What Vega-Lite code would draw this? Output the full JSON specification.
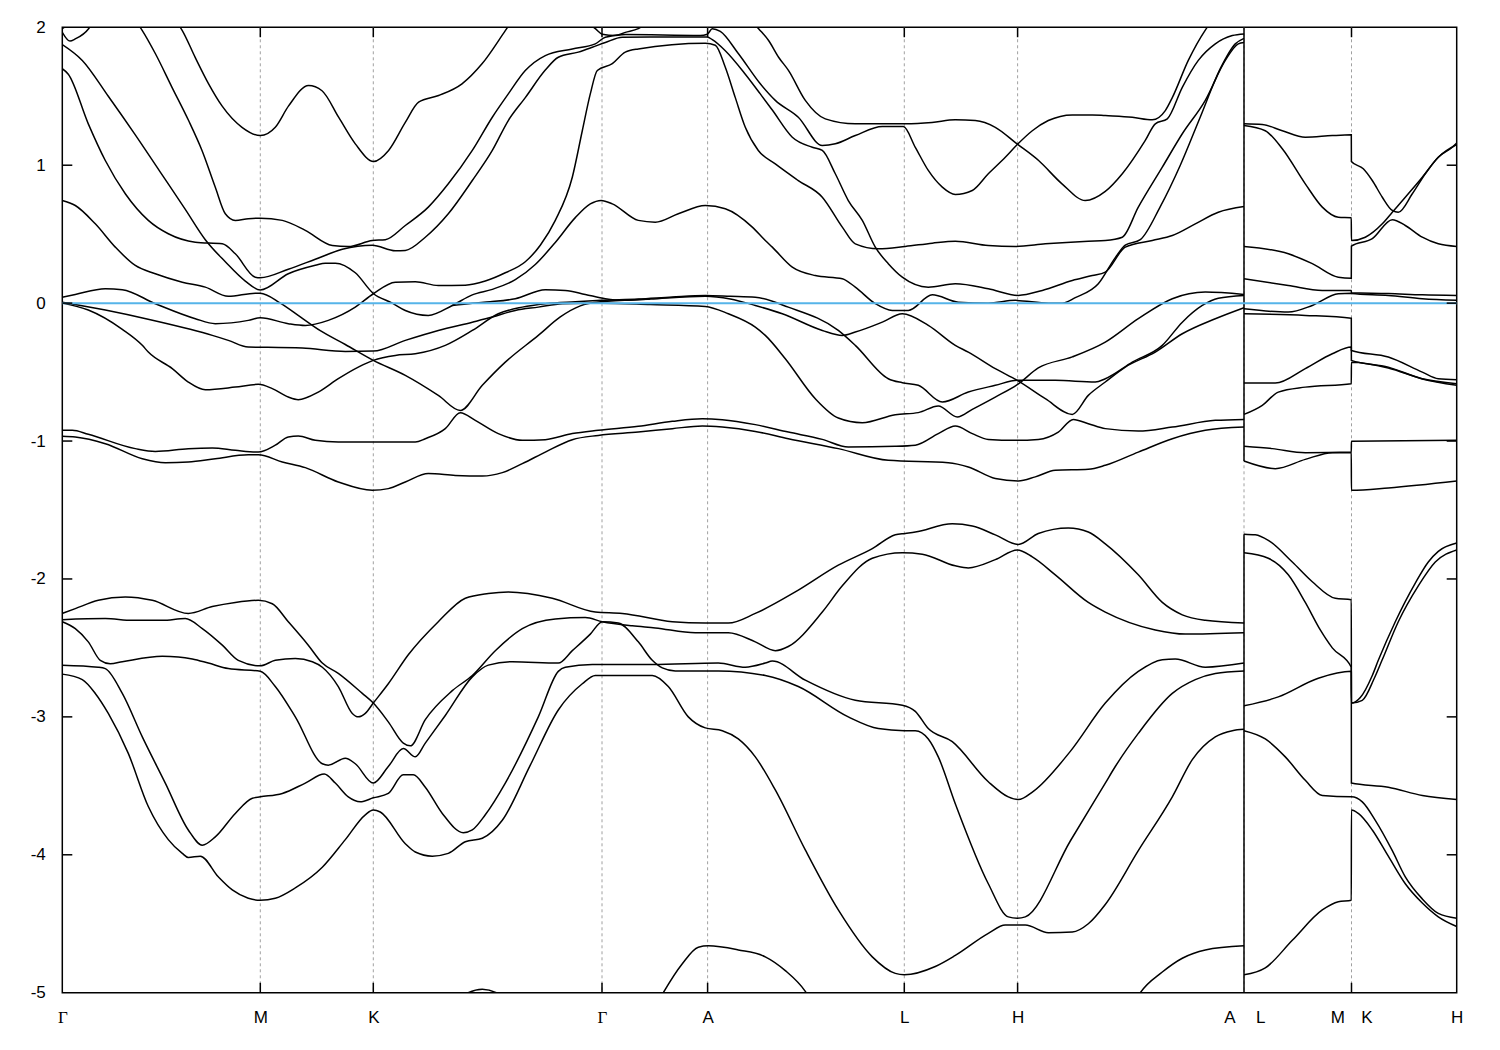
{
"$schema": "https://vega.github.io/schema/vega-lite/v6.json",
"width": 1394.4, "height": 965.4,
"autosize": {"type": "none"},
"padding": {"left": 62.3, "top": 27.3, "right": 43.3, "bottom": 57.3},
"config": {"view": {"stroke": "black", "strokeWidth": 1.5}, "font": "Liberation Sans",
 "axis": {"domain": false, "grid": false, "ticks": false, "labelColor": "black", "labelFont": "Liberation Sans", "labelFontSize": 17, "title": null}},
"layer": [
{"data": {"values": [{"k":198},{"k":311},{"k":539.7},{"k":645.3},{"k":842},{"k":955.3},{"k":1181.7},{"k":1289.2}]},
 "mark": {"type": "rule", "color": "#a0a0a0", "strokeWidth": 1, "strokeDash": [3, 3]},
 "encoding": {"x": {"field": "k", "type": "quantitative", "scale": {"domain": [0, 1394.4], "nice": false, "zero": false},
   "axis": {"orient": "bottom", "values": [0,198,311,539.7,645.3,842,955.3,1167,1198,1275,1304,1394.4], "labelPadding": 17, "labelFlush": false,
   "labelExpr": "datum.value==0||datum.value==539.7?'Γ':(datum.value==198||datum.value==1275)?'M':(datum.value==311||datum.value==1304)?'K':(datum.value==645.3||datum.value==1167)?'A':(datum.value==842||datum.value==1198)?'L':'H'",
   "labelFont": {"condition": {"test": "datum.value==0||datum.value==539.7", "value": "Liberation Serif"}, "value": "Liberation Sans"}}}}},
{"data": {"values": [{"k":1181.7,"lo":-5,"hi":-1.675},{"k":1181.7,"lo":-1.145,"hi":2}]},
 "mark": {"type": "rule", "color": "black", "strokeWidth": 1.5},
 "encoding": {"x": {"field": "k", "type": "quantitative"}, "y": {"field": "lo", "type": "quantitative", "scale": {"domain": [-5, 2], "nice": false, "zero": false},
   "axis": {"values": [-5,-4,-3,-2,-1,0,1,2], "labelPadding": 17, "labelExpr": "'' + datum.value"}}, "y2": {"field": "hi"}}},
{"data": {"values": [
{"b":"B1","x":0,"y":-2.69},{"b":"B1","x":20,"y":-2.73},{"b":"B1","x":33,"y":-2.83},{"b":"B1","x":46,"y":-2.975},{"b":"B1","x":66,"y":-3.265},{"b":"B1","x":86,"y":-3.65},{"b":"B1","x":106,"y":-3.89},{"b":"B1","x":120,"y":-3.99},{"b":"B1","x":126,"y":-4.02},{"b":"B1","x":138,"y":-4.01},{"b":"B1","x":156,"y":-4.16},{"b":"B1","x":170,"y":-4.255},{"b":"B1","x":186,"y":-4.315},{"b":"B1","x":198,"y":-4.33},{"b":"B1","x":213,"y":-4.315},{"b":"B1","x":233,"y":-4.24},{"b":"B1","x":260,"y":-4.09},{"b":"B1","x":283,"y":-3.89},{"b":"B1","x":303,"y":-3.71},{"b":"B1","x":311,"y":-3.676},{"b":"B1","x":318,"y":-3.69},{"b":"B1","x":343,"y":-3.92},{"b":"B1","x":353,"y":-3.98},{"b":"B1","x":370,"y":-4.01},{"b":"B1","x":386,"y":-3.99},{"b":"B1","x":403,"y":-3.905},{"b":"B1","x":420,"y":-3.88},{"b":"B1","x":440,"y":-3.75},{"b":"B1","x":468,"y":-3.35},{"b":"B1","x":496,"y":-2.95},{"b":"B1","x":520,"y":-2.76},{"b":"B1","x":533,"y":-2.70},{"b":"B1","x":590,"y":-2.70},{"b":"B1","x":606,"y":-2.78},{"b":"B1","x":626,"y":-3.0},{"b":"B1","x":643,"y":-3.08},{"b":"B1","x":660,"y":-3.10},{"b":"B1","x":676,"y":-3.16},{"b":"B1","x":693,"y":-3.29},{"b":"B1","x":713,"y":-3.53},{"b":"B1","x":743,"y":-3.965},{"b":"B1","x":776,"y":-4.40},{"b":"B1","x":810,"y":-4.74},{"b":"B1","x":833,"y":-4.86},{"b":"B1","x":842,"y":-4.87},{"b":"B1","x":873,"y":-4.81},{"b":"B1","x":893,"y":-4.73},{"b":"B1","x":926,"y":-4.57},{"b":"B1","x":943,"y":-4.51},{"b":"B1","x":963,"y":-4.51},{"b":"B1","x":986,"y":-4.565},{"b":"B1","x":1010,"y":-4.56},{"b":"B1","x":1026,"y":-4.50},{"b":"B1","x":1043,"y":-4.36},{"b":"B1","x":1076,"y":-3.97},{"b":"B1","x":1110,"y":-3.58},{"b":"B1","x":1130,"y":-3.31},{"b":"B1","x":1153,"y":-3.145},{"b":"B1","x":1170,"y":-3.10},{"b":"B1","x":1181.7,"y":-3.09},
{"b":"B2","x":0,"y":-2.625},{"b":"B2","x":36,"y":-2.64},{"b":"B2","x":43,"y":-2.65},{"b":"B2","x":60,"y":-2.83},{"b":"B2","x":80,"y":-3.145},{"b":"B2","x":103,"y":-3.48},{"b":"B2","x":126,"y":-3.82},{"b":"B2","x":140,"y":-3.93},{"b":"B2","x":153,"y":-3.87},{"b":"B2","x":173,"y":-3.70},{"b":"B2","x":190,"y":-3.59},{"b":"B2","x":198,"y":-3.58},{"b":"B2","x":220,"y":-3.555},{"b":"B2","x":243,"y":-3.48},{"b":"B2","x":262,"y":-3.415},{"b":"B2","x":273,"y":-3.48},{"b":"B2","x":286,"y":-3.58},{"b":"B2","x":298,"y":-3.616},{"b":"B2","x":311,"y":-3.587},{"b":"B2","x":326,"y":-3.555},{"b":"B2","x":341,"y":-3.42},{"b":"B2","x":351,"y":-3.42},{"b":"B2","x":363,"y":-3.51},{"b":"B2","x":380,"y":-3.70},{"b":"B2","x":401,"y":-3.84},{"b":"B2","x":410,"y":-3.82},{"b":"B2","x":423,"y":-3.71},{"b":"B2","x":443,"y":-3.48},{"b":"B2","x":476,"y":-3.0},{"b":"B2","x":496,"y":-2.67},{"b":"B2","x":503,"y":-2.64},{"b":"B2","x":530,"y":-2.62},{"b":"B2","x":590,"y":-2.62},{"b":"B2","x":656,"y":-2.61},{"b":"B2","x":683,"y":-2.64},{"b":"B2","x":703,"y":-2.61},{"b":"B2","x":710,"y":-2.595},{"b":"B2","x":743,"y":-2.734},{"b":"B2","x":793,"y":-2.88},{"b":"B2","x":840,"y":-2.915},{"b":"B2","x":853,"y":-2.96},{"b":"B2","x":866,"y":-3.085},{"b":"B2","x":890,"y":-3.18},{"b":"B2","x":926,"y":-3.47},{"b":"B2","x":946,"y":-3.58},{"b":"B2","x":956,"y":-3.60},{"b":"B2","x":971,"y":-3.54},{"b":"B2","x":1008,"y":-3.25},{"b":"B2","x":1043,"y":-2.90},{"b":"B2","x":1076,"y":-2.67},{"b":"B2","x":1100,"y":-2.585},{"b":"B2","x":1113,"y":-2.58},{"b":"B2","x":1143,"y":-2.64},{"b":"B2","x":1181.7,"y":-2.61},
{"b":"B3","x":0,"y":-2.31},{"b":"B3","x":13,"y":-2.36},{"b":"B3","x":26,"y":-2.456},{"b":"B3","x":38,"y":-2.59},{"b":"B3","x":48,"y":-2.615},{"b":"B3","x":60,"y":-2.60},{"b":"B3","x":100,"y":-2.56},{"b":"B3","x":116,"y":-2.565},{"b":"B3","x":130,"y":-2.58},{"b":"B3","x":146,"y":-2.61},{"b":"B3","x":166,"y":-2.65},{"b":"B3","x":198,"y":-2.67},{"b":"B3","x":213,"y":-2.78},{"b":"B3","x":233,"y":-3.0},{"b":"B3","x":260,"y":-3.34},{"b":"B3","x":266,"y":-3.35},{"b":"B3","x":283,"y":-3.30},{"b":"B3","x":293,"y":-3.34},{"b":"B3","x":311,"y":-3.48},{"b":"B3","x":326,"y":-3.36},{"b":"B3","x":341,"y":-3.23},{"b":"B3","x":353,"y":-3.29},{"b":"B3","x":363,"y":-3.19},{"b":"B3","x":383,"y":-2.99},{"b":"B3","x":410,"y":-2.71},{"b":"B3","x":426,"y":-2.625},{"b":"B3","x":450,"y":-2.60},{"b":"B3","x":496,"y":-2.61},{"b":"B3","x":510,"y":-2.52},{"b":"B3","x":528,"y":-2.40},{"b":"B3","x":540,"y":-2.31},{"b":"B3","x":556,"y":-2.32},{"b":"B3","x":576,"y":-2.456},{"b":"B3","x":590,"y":-2.59},{"b":"B3","x":600,"y":-2.645},{"b":"B3","x":613,"y":-2.667},{"b":"B3","x":656,"y":-2.667},{"b":"B3","x":703,"y":-2.70},{"b":"B3","x":736,"y":-2.78},{"b":"B3","x":786,"y":-3.0},{"b":"B3","x":816,"y":-3.085},{"b":"B3","x":842,"y":-3.10},{"b":"B3","x":853,"y":-3.10},{"b":"B3","x":866,"y":-3.16},{"b":"B3","x":876,"y":-3.29},{"b":"B3","x":893,"y":-3.63},{"b":"B3","x":926,"y":-4.21},{"b":"B3","x":946,"y":-4.45},{"b":"B3","x":955,"y":-4.46},{"b":"B3","x":963,"y":-4.45},{"b":"B3","x":1008,"y":-3.9},{"b":"B3","x":1043,"y":-3.48},{"b":"B3","x":1053,"y":-3.36},{"b":"B3","x":1076,"y":-3.12},{"b":"B3","x":1110,"y":-2.83},{"b":"B3","x":1133,"y":-2.73},{"b":"B3","x":1153,"y":-2.685},{"b":"B3","x":1181.7,"y":-2.667},
{"b":"B4","x":0,"y":-2.295},{"b":"B4","x":43,"y":-2.287},{"b":"B4","x":70,"y":-2.30},{"b":"B4","x":100,"y":-2.30},{"b":"B4","x":123,"y":-2.287},{"b":"B4","x":140,"y":-2.36},{"b":"B4","x":160,"y":-2.48},{"b":"B4","x":176,"y":-2.59},{"b":"B4","x":198,"y":-2.63},{"b":"B4","x":213,"y":-2.59},{"b":"B4","x":233,"y":-2.577},{"b":"B4","x":250,"y":-2.60},{"b":"B4","x":260,"y":-2.64},{"b":"B4","x":276,"y":-2.78},{"b":"B4","x":290,"y":-2.975},{"b":"B4","x":296,"y":-3.0},{"b":"B4","x":303,"y":-2.975},{"b":"B4","x":311,"y":-2.90},{"b":"B4","x":326,"y":-2.76},{"b":"B4","x":346,"y":-2.55},{"b":"B4","x":376,"y":-2.31},{"b":"B4","x":403,"y":-2.14},{"b":"B4","x":426,"y":-2.105},{"b":"B4","x":446,"y":-2.094},{"b":"B4","x":490,"y":-2.14},{"b":"B4","x":533,"y":-2.24},{"b":"B4","x":560,"y":-2.25},{"b":"B4","x":610,"y":-2.31},{"b":"B4","x":643,"y":-2.32},{"b":"B4","x":666,"y":-2.32},{"b":"B4","x":693,"y":-2.25},{"b":"B4","x":733,"y":-2.094},{"b":"B4","x":776,"y":-1.90},{"b":"B4","x":810,"y":-1.78},{"b":"B4","x":833,"y":-1.68},{"b":"B4","x":843,"y":-1.67},{"b":"B4","x":853,"y":-1.66},{"b":"B4","x":890,"y":-1.60},{"b":"B4","x":910,"y":-1.616},{"b":"B4","x":933,"y":-1.68},{"b":"B4","x":956,"y":-1.75},{"b":"B4","x":976,"y":-1.67},{"b":"B4","x":1006,"y":-1.63},{"b":"B4","x":1026,"y":-1.66},{"b":"B4","x":1043,"y":-1.745},{"b":"B4","x":1076,"y":-1.97},{"b":"B4","x":1100,"y":-2.17},{"b":"B4","x":1120,"y":-2.26},{"b":"B4","x":1143,"y":-2.30},{"b":"B4","x":1181.7,"y":-2.32},
{"b":"B5","x":0,"y":-2.25},{"b":"B5","x":13,"y":-2.215},{"b":"B5","x":36,"y":-2.155},{"b":"B5","x":63,"y":-2.13},{"b":"B5","x":90,"y":-2.155},{"b":"B5","x":126,"y":-2.25},{"b":"B5","x":150,"y":-2.20},{"b":"B5","x":173,"y":-2.17},{"b":"B5","x":196,"y":-2.155},{"b":"B5","x":210,"y":-2.18},{"b":"B5","x":226,"y":-2.31},{"b":"B5","x":246,"y":-2.48},{"b":"B5","x":260,"y":-2.61},{"b":"B5","x":276,"y":-2.685},{"b":"B5","x":300,"y":-2.83},{"b":"B5","x":311,"y":-2.90},{"b":"B5","x":326,"y":-3.036},{"b":"B5","x":341,"y":-3.19},{"b":"B5","x":348,"y":-3.21},{"b":"B5","x":363,"y":-3.02},{"b":"B5","x":390,"y":-2.81},{"b":"B5","x":410,"y":-2.70},{"b":"B5","x":433,"y":-2.52},{"b":"B5","x":460,"y":-2.36},{"b":"B5","x":493,"y":-2.29},{"b":"B5","x":523,"y":-2.28},{"b":"B5","x":540,"y":-2.31},{"b":"B5","x":570,"y":-2.34},{"b":"B5","x":593,"y":-2.355},{"b":"B5","x":633,"y":-2.39},{"b":"B5","x":666,"y":-2.39},{"b":"B5","x":693,"y":-2.456},{"b":"B5","x":713,"y":-2.52},{"b":"B5","x":726,"y":-2.49},{"b":"B5","x":760,"y":-2.24},{"b":"B5","x":780,"y":-2.05},{"b":"B5","x":810,"y":-1.85},{"b":"B5","x":840,"y":-1.81},{"b":"B5","x":860,"y":-1.82},{"b":"B5","x":893,"y":-1.905},{"b":"B5","x":906,"y":-1.92},{"b":"B5","x":933,"y":-1.86},{"b":"B5","x":955,"y":-1.79},{"b":"B5","x":970,"y":-1.84},{"b":"B5","x":993,"y":-1.97},{"b":"B5","x":1026,"y":-2.17},{"b":"B5","x":1043,"y":-2.24},{"b":"B5","x":1093,"y":-2.37},{"b":"B5","x":1123,"y":-2.40},{"b":"B5","x":1181.7,"y":-2.39},
{"b":"B0a","x":388,"y":-5.1},{"b":"B0a","x":406,"y":-5.0},{"b":"B0a","x":420,"y":-4.975},{"b":"B0a","x":434,"y":-5.0},{"b":"B0a","x":450,"y":-5.1},
{"b":"B0b","x":586,"y":-5.2},{"b":"B0b","x":601,"y":-5.0},{"b":"B0b","x":620,"y":-4.79},{"b":"B0b","x":636,"y":-4.67},{"b":"B0b","x":646,"y":-4.66},{"b":"B0b","x":676,"y":-4.69},{"b":"B0b","x":703,"y":-4.74},{"b":"B0b","x":723,"y":-4.84},{"b":"B0b","x":743,"y":-4.99},{"b":"B0b","x":756,"y":-5.15},
{"b":"B0c","x":1063,"y":-5.2},{"b":"B0c","x":1078,"y":-5.0},{"b":"B0c","x":1100,"y":-4.85},{"b":"B0c","x":1120,"y":-4.75},{"b":"B0c","x":1143,"y":-4.69},{"b":"B0c","x":1181.7,"y":-4.66},
{"b":"M1","x":0,"y":-0.922},{"b":"M1","x":10,"y":-0.922},{"b":"M1","x":26,"y":-0.951},{"b":"M1","x":73,"y":-1.055},{"b":"M1","x":93,"y":-1.075},{"b":"M1","x":126,"y":-1.055},{"b":"M1","x":150,"y":-1.05},{"b":"M1","x":173,"y":-1.067},{"b":"M1","x":196,"y":-1.08},{"b":"M1","x":213,"y":-1.03},{"b":"M1","x":226,"y":-0.97},{"b":"M1","x":236,"y":-0.964},{"b":"M1","x":253,"y":-0.995},{"b":"M1","x":276,"y":-1.007},{"b":"M1","x":326,"y":-1.007},{"b":"M1","x":353,"y":-1.007},{"b":"M1","x":363,"y":-0.983},{"b":"M1","x":383,"y":-0.91},{"b":"M1","x":398,"y":-0.794},{"b":"M1","x":413,"y":-0.85},{"b":"M1","x":436,"y":-0.946},{"b":"M1","x":460,"y":-0.995},{"b":"M1","x":483,"y":-0.99},{"b":"M1","x":510,"y":-0.946},{"b":"M1","x":536,"y":-0.922},{"b":"M1","x":576,"y":-0.893},{"b":"M1","x":610,"y":-0.857},{"b":"M1","x":640,"y":-0.838},{"b":"M1","x":660,"y":-0.845},{"b":"M1","x":693,"y":-0.881},{"b":"M1","x":726,"y":-0.935},{"b":"M1","x":760,"y":-0.988},{"b":"M1","x":786,"y":-1.043},{"b":"M1","x":833,"y":-1.038},{"b":"M1","x":853,"y":-1.03},{"b":"M1","x":876,"y":-0.946},{"b":"M1","x":893,"y":-0.891},{"b":"M1","x":910,"y":-0.946},{"b":"M1","x":926,"y":-0.988},{"b":"M1","x":953,"y":-0.995},{"b":"M1","x":976,"y":-0.988},{"b":"M1","x":996,"y":-0.935},{"b":"M1","x":1011,"y":-0.843},{"b":"M1","x":1026,"y":-0.874},{"b":"M1","x":1043,"y":-0.91},{"b":"M1","x":1076,"y":-0.928},{"b":"M1","x":1110,"y":-0.899},{"b":"M1","x":1153,"y":-0.85},{"b":"M1","x":1181.7,"y":-0.843},
{"b":"M2","x":0,"y":-0.966},{"b":"M2","x":13,"y":-0.971},{"b":"M2","x":43,"y":-1.019},{"b":"M2","x":80,"y":-1.128},{"b":"M2","x":103,"y":-1.157},{"b":"M2","x":126,"y":-1.152},{"b":"M2","x":153,"y":-1.128},{"b":"M2","x":186,"y":-1.10},{"b":"M2","x":196,"y":-1.10},{"b":"M2","x":220,"y":-1.152},{"b":"M2","x":243,"y":-1.193},{"b":"M2","x":276,"y":-1.297},{"b":"M2","x":310,"y":-1.357},{"b":"M2","x":326,"y":-1.345},{"b":"M2","x":343,"y":-1.297},{"b":"M2","x":366,"y":-1.236},{"b":"M2","x":393,"y":-1.249},{"b":"M2","x":420,"y":-1.254},{"b":"M2","x":440,"y":-1.229},{"b":"M2","x":460,"y":-1.164},{"b":"M2","x":483,"y":-1.08},{"b":"M2","x":510,"y":-0.99},{"b":"M2","x":536,"y":-0.959},{"b":"M2","x":576,"y":-0.935},{"b":"M2","x":610,"y":-0.91},{"b":"M2","x":640,"y":-0.891},{"b":"M2","x":660,"y":-0.899},{"b":"M2","x":693,"y":-0.93},{"b":"M2","x":726,"y":-0.983},{"b":"M2","x":776,"y":-1.055},{"b":"M2","x":826,"y":-1.14},{"b":"M2","x":886,"y":-1.157},{"b":"M2","x":906,"y":-1.188},{"b":"M2","x":933,"y":-1.272},{"b":"M2","x":956,"y":-1.29},{"b":"M2","x":973,"y":-1.26},{"b":"M2","x":993,"y":-1.212},{"b":"M2","x":1026,"y":-1.205},{"b":"M2","x":1043,"y":-1.176},{"b":"M2","x":1076,"y":-1.08},{"b":"M2","x":1110,"y":-0.983},{"b":"M2","x":1143,"y":-0.922},{"b":"M2","x":1181.7,"y":-0.899},
{"b":"K1","x":0,"y":0.0},{"b":"K1","x":26,"y":-0.05},{"b":"K1","x":60,"y":-0.19},{"b":"K1","x":80,"y":-0.306},{"b":"K1","x":86,"y":-0.355},{"b":"K1","x":110,"y":-0.475},{"b":"K1","x":126,"y":-0.572},{"b":"K1","x":143,"y":-0.628},{"b":"K1","x":173,"y":-0.609},{"b":"K1","x":196,"y":-0.589},{"b":"K1","x":210,"y":-0.62},{"b":"K1","x":226,"y":-0.681},{"b":"K1","x":236,"y":-0.70},{"b":"K1","x":256,"y":-0.645},{"b":"K1","x":276,"y":-0.548},{"b":"K1","x":296,"y":-0.464},{"b":"K1","x":311,"y":-0.415},{"b":"K1","x":333,"y":-0.379},{"b":"K1","x":353,"y":-0.367},{"b":"K1","x":383,"y":-0.306},{"b":"K1","x":410,"y":-0.198},{"b":"K1","x":436,"y":-0.077},{"b":"K1","x":460,"y":-0.029},{"b":"K1","x":483,"y":-0.004},{"b":"K1","x":513,"y":0.01},{"b":"K1","x":539,"y":0.02},{"b":"K1","x":576,"y":0.03},{"b":"K1","x":610,"y":0.045},{"b":"K1","x":643,"y":0.056},{"b":"K1","x":668,"y":0.05},{"b":"K1","x":693,"y":0.043},{"b":"K1","x":726,"y":-0.029},{"b":"K1","x":776,"y":-0.198},{"b":"K1","x":793,"y":-0.306},{"b":"K1","x":826,"y":-0.548},{"b":"K1","x":840,"y":-0.577},{"b":"K1","x":856,"y":-0.596},{"b":"K1","x":880,"y":-0.717},{"b":"K1","x":906,"y":-0.645},{"b":"K1","x":933,"y":-0.596},{"b":"K1","x":955,"y":-0.56},{"b":"K1","x":993,"y":-0.56},{"b":"K1","x":1033,"y":-0.572},{"b":"K1","x":1043,"y":-0.548},{"b":"K1","x":1070,"y":-0.428},{"b":"K1","x":1100,"y":-0.306},{"b":"K1","x":1120,"y":-0.138},{"b":"K1","x":1140,"y":-0.017},{"b":"K1","x":1156,"y":0.036},{"b":"K1","x":1181.7,"y":0.056},
{"b":"K2","x":0,"y":0.007},{"b":"K2","x":43,"y":-0.05},{"b":"K2","x":88,"y":-0.12},{"b":"K2","x":128,"y":-0.19},{"b":"K2","x":150,"y":-0.234},{"b":"K2","x":166,"y":-0.27},{"b":"K2","x":186,"y":-0.319},{"b":"K2","x":198,"y":-0.32},{"b":"K2","x":240,"y":-0.326},{"b":"K2","x":283,"y":-0.35},{"b":"K2","x":311,"y":-0.348},{"b":"K2","x":343,"y":-0.27},{"b":"K2","x":376,"y":-0.198},{"b":"K2","x":410,"y":-0.138},{"b":"K2","x":430,"y":-0.101},{"b":"K2","x":453,"y":-0.053},{"b":"K2","x":476,"y":-0.029},{"b":"K2","x":500,"y":-0.004},{"b":"K2","x":523,"y":0.0},{"b":"K2","x":539,"y":0.0},{"b":"K2","x":588,"y":-0.01},{"b":"K2","x":643,"y":-0.024},{"b":"K2","x":666,"y":-0.077},{"b":"K2","x":693,"y":-0.174},{"b":"K2","x":703,"y":-0.234},{"b":"K2","x":723,"y":-0.403},{"b":"K2","x":753,"y":-0.693},{"b":"K2","x":776,"y":-0.833},{"b":"K2","x":800,"y":-0.867},{"b":"K2","x":833,"y":-0.809},{"b":"K2","x":856,"y":-0.794},{"b":"K2","x":876,"y":-0.746},{"b":"K2","x":895,"y":-0.826},{"b":"K2","x":910,"y":-0.77},{"b":"K2","x":933,"y":-0.681},{"b":"K2","x":955,"y":-0.591},{"b":"K2","x":976,"y":-0.47},{"b":"K2","x":1010,"y":-0.39},{"b":"K2","x":1043,"y":-0.283},{"b":"K2","x":1076,"y":-0.113},{"b":"K2","x":1110,"y":0.032},{"b":"K2","x":1143,"y":0.08},{"b":"K2","x":1181.7,"y":0.063},
{"b":"K3","x":0,"y":0.744},{"b":"K3","x":13,"y":0.708},{"b":"K3","x":33,"y":0.575},{"b":"K3","x":53,"y":0.406},{"b":"K3","x":73,"y":0.273},{"b":"K3","x":93,"y":0.213},{"b":"K3","x":120,"y":0.152},{"b":"K3","x":143,"y":0.116},{"b":"K3","x":166,"y":0.049},{"b":"K3","x":193,"y":0.072},{"b":"K3","x":198,"y":0.072},{"b":"K3","x":218,"y":0.0},{"b":"K3","x":238,"y":-0.1},{"b":"K3","x":258,"y":-0.2},{"b":"K3","x":283,"y":-0.3},{"b":"K3","x":311,"y":-0.415},{"b":"K3","x":343,"y":-0.524},{"b":"K3","x":376,"y":-0.669},{"b":"K3","x":398,"y":-0.778},{"b":"K3","x":420,"y":-0.596},{"b":"K3","x":443,"y":-0.428},{"b":"K3","x":476,"y":-0.234},{"b":"K3","x":498,"y":-0.1},{"b":"K3","x":518,"y":-0.02},{"b":"K3","x":539,"y":0.01},{"b":"K3","x":588,"y":0.03},{"b":"K3","x":643,"y":0.05},{"b":"K3","x":668,"y":0.03},{"b":"K3","x":693,"y":-0.017},{"b":"K3","x":720,"y":-0.077},{"b":"K3","x":760,"y":-0.198},{"b":"K3","x":780,"y":-0.234},{"b":"K3","x":793,"y":-0.21},{"b":"K3","x":820,"y":-0.138},{"b":"K3","x":840,"y":-0.077},{"b":"K3","x":866,"y":-0.161},{"b":"K3","x":893,"y":-0.306},{"b":"K3","x":906,"y":-0.355},{"b":"K3","x":933,"y":-0.475},{"b":"K3","x":955,"y":-0.56},{"b":"K3","x":983,"y":-0.693},{"b":"K3","x":1010,"y":-0.807},{"b":"K3","x":1026,"y":-0.669},{"b":"K3","x":1043,"y":-0.572},{"b":"K3","x":1063,"y":-0.464},{"b":"K3","x":1093,"y":-0.355},{"b":"K3","x":1120,"y":-0.222},{"b":"K3","x":1153,"y":-0.113},{"b":"K3","x":1181.7,"y":-0.033},
{"b":"ZA","x":0,"y":0.043},{"b":"ZA","x":13,"y":0.063},{"b":"ZA","x":43,"y":0.104},{"b":"ZA","x":60,"y":0.097},{"b":"ZA","x":93,"y":-0.004},{"b":"ZA","x":133,"y":-0.113},{"b":"ZA","x":153,"y":-0.149},{"b":"ZA","x":186,"y":-0.125},{"b":"ZA","x":198,"y":-0.106},{"b":"ZA","x":226,"y":-0.149},{"b":"ZA","x":243,"y":-0.162},{"b":"ZA","x":266,"y":-0.125},{"b":"ZA","x":293,"y":-0.029},{"b":"ZA","x":311,"y":0.068},{"b":"ZA","x":333,"y":0.152},{"b":"ZA","x":353,"y":0.155},{"b":"ZA","x":376,"y":0.128},{"b":"ZA","x":403,"y":0.13},{"b":"ZA","x":423,"y":0.16},{"b":"ZA","x":443,"y":0.22},{"b":"ZA","x":463,"y":0.30},{"b":"ZA","x":478,"y":0.42},{"b":"ZA","x":493,"y":0.60},{"b":"ZA","x":510,"y":0.913},{"b":"ZA","x":520,"y":1.25},{"b":"ZA","x":528,"y":1.517},{"b":"ZA","x":535,"y":1.687},{"b":"ZA","x":550,"y":1.736},{"b":"ZA","x":563,"y":1.82},{"b":"ZA","x":576,"y":1.843},{"b":"ZA","x":643,"y":1.884},{"b":"ZA","x":653,"y":1.87},{"b":"ZA","x":663,"y":1.71},{"b":"ZA","x":673,"y":1.49},{"b":"ZA","x":683,"y":1.275},{"b":"ZA","x":696,"y":1.107},{"b":"ZA","x":713,"y":1.01},{"b":"ZA","x":736,"y":0.889},{"b":"ZA","x":760,"y":0.768},{"b":"ZA","x":780,"y":0.551},{"b":"ZA","x":793,"y":0.43},{"b":"ZA","x":816,"y":0.394},{"b":"ZA","x":843,"y":0.411},{"b":"ZA","x":870,"y":0.435},{"b":"ZA","x":893,"y":0.449},{"b":"ZA","x":926,"y":0.418},{"b":"ZA","x":953,"y":0.411},{"b":"ZA","x":983,"y":0.43},{"b":"ZA","x":1026,"y":0.449},{"b":"ZA","x":1043,"y":0.454},{"b":"ZA","x":1060,"y":0.478},{"b":"ZA","x":1076,"y":0.696},{"b":"ZA","x":1100,"y":0.986},{"b":"ZA","x":1120,"y":1.228},{"b":"ZA","x":1143,"y":1.47},{"b":"ZA","x":1163,"y":1.76},{"b":"ZA","x":1176,"y":1.88},{"b":"ZA","x":1181.7,"y":1.89},
{"b":"XL","x":0,"y":1.875},{"b":"XL","x":20,"y":1.76},{"b":"XL","x":46,"y":1.50},{"b":"XL","x":73,"y":1.22},{"b":"XL","x":98,"y":0.95},{"b":"XL","x":123,"y":0.68},{"b":"XL","x":143,"y":0.46},{"b":"XL","x":163,"y":0.30},{"b":"XL","x":183,"y":0.16},{"b":"XL","x":198,"y":0.095},{"b":"XL","x":226,"y":0.213},{"b":"XL","x":253,"y":0.274},{"b":"XL","x":263,"y":0.29},{"b":"XL","x":273,"y":0.29},{"b":"XL","x":293,"y":0.22},{"b":"XL","x":311,"y":0.07},{"b":"XL","x":330,"y":0.0},{"b":"XL","x":343,"y":-0.053},{"b":"XL","x":366,"y":-0.089},{"b":"XL","x":390,"y":-0.017},{"b":"XL","x":410,"y":0.06},{"b":"XL","x":430,"y":0.10},{"b":"XL","x":453,"y":0.17},{"b":"XL","x":473,"y":0.28},{"b":"XL","x":493,"y":0.44},{"b":"XL","x":513,"y":0.62},{"b":"XL","x":528,"y":0.72},{"b":"XL","x":539,"y":0.745},{"b":"XL","x":550,"y":0.72},{"b":"XL","x":576,"y":0.60},{"b":"XL","x":593,"y":0.587},{"b":"XL","x":616,"y":0.648},{"b":"XL","x":643,"y":0.708},{"b":"XL","x":663,"y":0.684},{"b":"XL","x":690,"y":0.551},{"b":"XL","x":703,"y":0.454},{"b":"XL","x":710,"y":0.406},{"b":"XL","x":730,"y":0.261},{"b":"XL","x":753,"y":0.20},{"b":"XL","x":780,"y":0.177},{"b":"XL","x":793,"y":0.116},{"b":"XL","x":813,"y":-0.004},{"b":"XL","x":830,"y":-0.053},{"b":"XL","x":846,"y":-0.053},{"b":"XL","x":870,"y":0.06},{"b":"XL","x":896,"y":0.007},{"b":"XL","x":926,"y":0.0},{"b":"XL","x":953,"y":0.02},{"b":"XL","x":986,"y":0.0},{"b":"XL","x":1000,"y":0.0},{"b":"XL","x":1013,"y":0.04},{"b":"XL","x":1036,"y":0.14},{"b":"XL","x":1053,"y":0.33},{"b":"XL","x":1063,"y":0.42},{"b":"XL","x":1078,"y":0.46},{"b":"XL","x":1098,"y":0.70},{"b":"XL","x":1118,"y":1.0},{"b":"XL","x":1138,"y":1.35},{"b":"XL","x":1158,"y":1.7},{"b":"XL","x":1173,"y":1.88},{"b":"XL","x":1181.7,"y":1.92},
{"b":"YL","x":0,"y":1.70},{"b":"YL","x":6,"y":1.66},{"b":"YL","x":26,"y":1.30},{"b":"YL","x":43,"y":1.034},{"b":"YL","x":63,"y":0.793},{"b":"YL","x":86,"y":0.60},{"b":"YL","x":106,"y":0.503},{"b":"YL","x":133,"y":0.442},{"b":"YL","x":160,"y":0.43},{"b":"YL","x":173,"y":0.358},{"b":"YL","x":193,"y":0.188},{"b":"YL","x":198,"y":0.184},{"b":"YL","x":226,"y":0.246},{"b":"YL","x":253,"y":0.318},{"b":"YL","x":280,"y":0.39},{"b":"YL","x":310,"y":0.42},{"b":"YL","x":333,"y":0.38},{"b":"YL","x":343,"y":0.382},{"b":"YL","x":363,"y":0.478},{"b":"YL","x":386,"y":0.648},{"b":"YL","x":410,"y":0.889},{"b":"YL","x":430,"y":1.107},{"b":"YL","x":446,"y":1.324},{"b":"YL","x":463,"y":1.49},{"b":"YL","x":483,"y":1.69},{"b":"YL","x":496,"y":1.783},{"b":"YL","x":516,"y":1.82},{"b":"YL","x":530,"y":1.855},{"b":"YL","x":543,"y":1.89},{"b":"YL","x":560,"y":1.928},{"b":"YL","x":588,"y":1.93},{"b":"YL","x":645,"y":1.93},{"b":"YL","x":650,"y":1.91},{"b":"YL","x":663,"y":1.83},{"b":"YL","x":683,"y":1.66},{"b":"YL","x":698,"y":1.517},{"b":"YL","x":710,"y":1.40},{"b":"YL","x":730,"y":1.203},{"b":"YL","x":750,"y":1.13},{"b":"YL","x":760,"y":1.107},{"b":"YL","x":773,"y":0.938},{"b":"YL","x":786,"y":0.744},{"b":"YL","x":800,"y":0.60},{"b":"YL","x":813,"y":0.406},{"b":"YL","x":826,"y":0.286},{"b":"YL","x":840,"y":0.188},{"b":"YL","x":866,"y":0.116},{"b":"YL","x":893,"y":0.14},{"b":"YL","x":926,"y":0.104},{"b":"YL","x":956,"y":0.056},{"b":"YL","x":980,"y":0.092},{"b":"YL","x":1010,"y":0.164},{"b":"YL","x":1030,"y":0.20},{"b":"YL","x":1043,"y":0.225},{"b":"YL","x":1063,"y":0.406},{"b":"YL","x":1090,"y":0.454},{"b":"YL","x":1110,"y":0.49},{"b":"YL","x":1133,"y":0.575},{"b":"YL","x":1156,"y":0.659},{"b":"YL","x":1181.7,"y":0.70},
{"b":"C2","x":73,"y":2.05},{"b":"C2","x":79.7,"y":1.98},{"b":"C2","x":93,"y":1.81},{"b":"C2","x":109.7,"y":1.565},{"b":"C2","x":126.3,"y":1.324},{"b":"C2","x":139.7,"y":1.107},{"b":"C2","x":153,"y":0.84},{"b":"C2","x":163,"y":0.648},{"b":"C2","x":173,"y":0.60},{"b":"C2","x":186,"y":0.612},{"b":"C2","x":198,"y":0.616},{"b":"C2","x":220,"y":0.60},{"b":"C2","x":243,"y":0.527},{"b":"C2","x":270,"y":0.418},{"b":"C2","x":286,"y":0.41},{"b":"C2","x":310,"y":0.454},{"b":"C2","x":323,"y":0.46},{"b":"C2","x":343,"y":0.563},{"b":"C2","x":366,"y":0.696},{"b":"C2","x":386,"y":0.865},{"b":"C2","x":410,"y":1.107},{"b":"C2","x":430,"y":1.348},{"b":"C2","x":446,"y":1.517},{"b":"C2","x":463,"y":1.686},{"b":"C2","x":483,"y":1.795},{"b":"C2","x":510,"y":1.843},{"b":"C2","x":533,"y":1.88},{"b":"C2","x":543,"y":1.928},{"b":"C2","x":563,"y":1.947},{"b":"C2","x":638,"y":1.94},{"b":"C2","x":645,"y":1.95},{"b":"C2","x":650,"y":1.99},{"b":"C2","x":658,"y":1.97},{"b":"C2","x":676,"y":1.81},{"b":"C2","x":698,"y":1.59},{"b":"C2","x":713,"y":1.47},{"b":"C2","x":736,"y":1.348},{"b":"C2","x":760,"y":1.143},{"b":"C2","x":773,"y":1.155},{"b":"C2","x":793,"y":1.215},{"b":"C2","x":820,"y":1.28},{"b":"C2","x":841,"y":1.28},{"b":"C2","x":853,"y":1.13},{"b":"C2","x":866,"y":0.962},{"b":"C2","x":880,"y":0.841},{"b":"C2","x":893,"y":0.788},{"b":"C2","x":910,"y":0.817},{"b":"C2","x":926,"y":0.938},{"b":"C2","x":943,"y":1.058},{"b":"C2","x":955,"y":1.15},{"b":"C2","x":970,"y":1.25},{"b":"C2","x":986,"y":1.324},{"b":"C2","x":1010,"y":1.365},{"b":"C2","x":1030,"y":1.365},{"b":"C2","x":1043,"y":1.36},{"b":"C2","x":1070,"y":1.348},{"b":"C2","x":1090,"y":1.329},{"b":"C2","x":1103,"y":1.396},{"b":"C2","x":1110,"y":1.49},{"b":"C2","x":1126,"y":1.76},{"b":"C2","x":1143,"y":1.98},{"b":"C2","x":1150,"y":2.05},
{"b":"C1","x":113,"y":2.05},{"b":"C1","x":119.7,"y":1.98},{"b":"C1","x":133,"y":1.78},{"b":"C1","x":146.3,"y":1.59},{"b":"C1","x":159.7,"y":1.43},{"b":"C1","x":179.7,"y":1.275},{"b":"C1","x":198,"y":1.215},{"b":"C1","x":213,"y":1.275},{"b":"C1","x":226.3,"y":1.43},{"b":"C1","x":246.3,"y":1.578},{"b":"C1","x":259.7,"y":1.54},{"b":"C1","x":276.3,"y":1.348},{"b":"C1","x":293,"y":1.155},{"b":"C1","x":311.3,"y":1.027},{"b":"C1","x":326.3,"y":1.107},{"b":"C1","x":343,"y":1.31},{"b":"C1","x":356.3,"y":1.457},{"b":"C1","x":376.3,"y":1.505},{"b":"C1","x":399.7,"y":1.59},{"b":"C1","x":419.7,"y":1.735},{"b":"C1","x":443,"y":1.976},{"b":"C1","x":450,"y":2.05},
{"b":"L1","x":683,"y":2.1},{"b":"L1","x":696.3,"y":1.99},{"b":"L1","x":706.3,"y":1.904},{"b":"L1","x":716.3,"y":1.783},{"b":"L1","x":726.3,"y":1.686},{"b":"L1","x":743,"y":1.47},{"b":"L1","x":763,"y":1.336},{"b":"L1","x":793,"y":1.30},{"b":"L1","x":843,"y":1.30},{"b":"L1","x":869.7,"y":1.31},{"b":"L1","x":893,"y":1.33},{"b":"L1","x":913,"y":1.324},{"b":"L1","x":933,"y":1.275},{"b":"L1","x":954.7,"y":1.155},{"b":"L1","x":976.3,"y":1.034},{"b":"L1","x":999.7,"y":0.865},{"b":"L1","x":1023,"y":0.744},{"b":"L1","x":1043,"y":0.81},{"b":"L1","x":1060,"y":0.938},{"b":"L1","x":1083,"y":1.18},{"b":"L1","x":1093,"y":1.30},{"b":"L1","x":1105,"y":1.336},{"b":"L1","x":1120,"y":1.565},{"b":"L1","x":1136,"y":1.76},{"b":"L1","x":1153,"y":1.88},{"b":"L1","x":1170,"y":1.94},{"b":"L1","x":1181.7,"y":1.952},
{"b":"TL1","x":0,"y":1.964},{"b":"TL1","x":7.7,"y":1.90},{"b":"TL1","x":13,"y":1.916},{"b":"TL1","x":26.3,"y":1.99},{"b":"TL1","x":30,"y":2.03},
{"b":"TL2","x":0,"y":1.99},{"b":"TL2","x":8,"y":2.03},
{"b":"TU","x":523,"y":2.05},{"b":"TU","x":533,"y":1.99},{"b":"TU","x":540,"y":1.95},{"b":"TU","x":553,"y":1.94},{"b":"TU","x":563,"y":1.963},{"b":"TU","x":576,"y":1.99},{"b":"TU","x":588,"y":2.05},
{"b":"BU","x":390,"y":-0.017},{"b":"BU","x":410,"y":0.0},{"b":"BU","x":428,"y":0.01},{"b":"BU","x":453,"y":0.032},{"b":"BU","x":483,"y":0.097},{"b":"BU","x":503,"y":0.092},{"b":"BU","x":523,"y":0.063},{"b":"BU","x":543,"y":0.032},{"b":"BU","x":560,"y":0.02},{"b":"BU","x":588,"y":0.03},
{"b":"S1","x":1181.7,"y":-4.87},{"b":"S1","x":1203,"y":-4.82},{"b":"S1","x":1230,"y":-4.62},{"b":"S1","x":1260,"y":-4.40},{"b":"S1","x":1276,"y":-4.34},{"b":"S1","x":1289,"y":-4.33},{"b":"S1","x":1289.1,"y":-3.676},{"b":"S1","x":1296,"y":-3.70},{"b":"S1","x":1310,"y":-3.82},{"b":"S1","x":1326,"y":-4.01},{"b":"S1","x":1343,"y":-4.21},{"b":"S1","x":1360,"y":-4.35},{"b":"S1","x":1376,"y":-4.45},{"b":"S1","x":1394.4,"y":-4.52},
{"b":"S2","x":1181.7,"y":-3.10},{"b":"S2","x":1203,"y":-3.16},{"b":"S2","x":1223,"y":-3.29},{"b":"S2","x":1243,"y":-3.46},{"b":"S2","x":1260,"y":-3.57},{"b":"S2","x":1289,"y":-3.58},{"b":"S2","x":1289.1,"y":-3.58},{"b":"S2","x":1300,"y":-3.616},{"b":"S2","x":1313,"y":-3.75},{"b":"S2","x":1330,"y":-3.97},{"b":"S2","x":1343,"y":-4.16},{"b":"S2","x":1360,"y":-4.32},{"b":"S2","x":1376,"y":-4.425},{"b":"S2","x":1394.4,"y":-4.46},
{"b":"S3","x":1181.7,"y":-2.92},{"b":"S3","x":1216,"y":-2.855},{"b":"S3","x":1256,"y":-2.72},{"b":"S3","x":1289,"y":-2.67},{"b":"S3","x":1289.1,"y":-3.48},{"b":"S3","x":1326,"y":-3.51},{"b":"S3","x":1360,"y":-3.57},{"b":"S3","x":1394.4,"y":-3.60},
{"b":"S4","x":1181.7,"y":-1.81},{"b":"S4","x":1206,"y":-1.85},{"b":"S4","x":1226,"y":-1.97},{"b":"S4","x":1243,"y":-2.17},{"b":"S4","x":1258,"y":-2.37},{"b":"S4","x":1270,"y":-2.50},{"b":"S4","x":1289,"y":-2.64},{"b":"S4","x":1289.1,"y":-2.90},{"b":"S4","x":1300,"y":-2.88},{"b":"S4","x":1312,"y":-2.72},{"b":"S4","x":1319.7,"y":-2.59},{"b":"S4","x":1336,"y":-2.31},{"b":"S4","x":1356,"y":-2.05},{"b":"S4","x":1373,"y":-1.877},{"b":"S4","x":1394.4,"y":-1.79},
{"b":"S5","x":1181.7,"y":-1.675},{"b":"S5","x":1193,"y":-1.68},{"b":"S5","x":1206,"y":-1.72},{"b":"S5","x":1230,"y":-1.877},{"b":"S5","x":1250,"y":-2.02},{"b":"S5","x":1273,"y":-2.14},{"b":"S5","x":1289,"y":-2.15},{"b":"S5","x":1289.1,"y":-2.90},{"b":"S5","x":1298,"y":-2.86},{"b":"S5","x":1310,"y":-2.70},{"b":"S5","x":1316,"y":-2.59},{"b":"S5","x":1333,"y":-2.31},{"b":"S5","x":1353,"y":-2.03},{"b":"S5","x":1366,"y":-1.877},{"b":"S5","x":1376,"y":-1.80},{"b":"S5","x":1394.4,"y":-1.74},
{"b":"S6","x":1181.7,"y":-1.145},{"b":"S6","x":1213,"y":-1.20},{"b":"S6","x":1243,"y":-1.133},{"b":"S6","x":1270,"y":-1.084},{"b":"S6","x":1289,"y":-1.084},{"b":"S6","x":1289.1,"y":-1.357},{"b":"S6","x":1326,"y":-1.34},{"b":"S6","x":1394.4,"y":-1.29},
{"b":"S7","x":1181.7,"y":-1.038},{"b":"S7","x":1210,"y":-1.055},{"b":"S7","x":1243,"y":-1.084},{"b":"S7","x":1289,"y":-1.08},{"b":"S7","x":1289.1,"y":-1.002},{"b":"S7","x":1394.4,"y":-0.995},
{"b":"S8","x":1181.7,"y":-0.807},{"b":"S8","x":1200,"y":-0.741},{"b":"S8","x":1216,"y":-0.645},{"b":"S8","x":1243,"y":-0.609},{"b":"S8","x":1289,"y":-0.584},{"b":"S8","x":1289.1,"y":-0.428},{"b":"S8","x":1326,"y":-0.47},{"b":"S8","x":1360,"y":-0.55},{"b":"S8","x":1394.4,"y":-0.596},
{"b":"S9","x":1181.7,"y":-0.58},{"b":"S9","x":1213,"y":-0.58},{"b":"S9","x":1243,"y":-0.475},{"b":"S9","x":1270,"y":-0.367},{"b":"S9","x":1289,"y":-0.319},{"b":"S9","x":1289.1,"y":-0.415},{"b":"S9","x":1326,"y":-0.464},{"b":"S9","x":1360,"y":-0.548},{"b":"S9","x":1394.4,"y":-0.584},
{"b":"S10","x":1181.7,"y":-0.077},{"b":"S10","x":1243,"y":-0.089},{"b":"S10","x":1289,"y":-0.109},{"b":"S10","x":1289.1,"y":-0.343},{"b":"S10","x":1326,"y":-0.391},{"b":"S10","x":1360,"y":-0.50},{"b":"S10","x":1376,"y":-0.548},{"b":"S10","x":1394.4,"y":-0.555},
{"b":"S11","x":1181.7,"y":-0.041},{"b":"S11","x":1226,"y":-0.065},{"b":"S11","x":1250,"y":-0.017},{"b":"S11","x":1276,"y":0.068},{"b":"S11","x":1289,"y":0.072},{"b":"S11","x":1289.1,"y":0.07},{"b":"S11","x":1326,"y":0.056},{"b":"S11","x":1360,"y":0.032},{"b":"S11","x":1394.4,"y":0.02},
{"b":"S12","x":1181.7,"y":0.177},{"b":"S12","x":1226,"y":0.128},{"b":"S12","x":1260,"y":0.092},{"b":"S12","x":1289,"y":0.092},{"b":"S12","x":1289.1,"y":0.075},{"b":"S12","x":1326,"y":0.07},{"b":"S12","x":1360,"y":0.06},{"b":"S12","x":1394.4,"y":0.056},
{"b":"S13","x":1181.7,"y":0.411},{"b":"S13","x":1226,"y":0.358},{"b":"S13","x":1250,"y":0.286},{"b":"S13","x":1276,"y":0.188},{"b":"S13","x":1289,"y":0.181},{"b":"S13","x":1289.1,"y":0.413},{"b":"S13","x":1310,"y":0.467},{"b":"S13","x":1330,"y":0.605},{"b":"S13","x":1343,"y":0.563},{"b":"S13","x":1360,"y":0.478},{"b":"S13","x":1376,"y":0.43},{"b":"S13","x":1394.4,"y":0.411},
{"b":"S14","x":1181.7,"y":1.288},{"b":"S14","x":1203,"y":1.25},{"b":"S14","x":1220,"y":1.119},{"b":"S14","x":1243,"y":0.865},{"b":"S14","x":1260,"y":0.696},{"b":"S14","x":1276,"y":0.623},{"b":"S14","x":1289,"y":0.619},{"b":"S14","x":1289.1,"y":0.454},{"b":"S14","x":1303,"y":0.478},{"b":"S14","x":1320,"y":0.575},{"b":"S14","x":1330,"y":0.659},{"b":"S14","x":1343,"y":0.768},{"b":"S14","x":1360,"y":0.913},{"b":"S14","x":1376,"y":1.058},{"b":"S14","x":1394.4,"y":1.15},
{"b":"S15","x":1181.7,"y":1.30},{"b":"S15","x":1200,"y":1.295},{"b":"S15","x":1220,"y":1.25},{"b":"S15","x":1243,"y":1.203},{"b":"S15","x":1270,"y":1.215},{"b":"S15","x":1289,"y":1.22},{"b":"S15","x":1289.1,"y":1.027},{"b":"S15","x":1301,"y":0.974},{"b":"S15","x":1310,"y":0.889},{"b":"S15","x":1320,"y":0.768},{"b":"S15","x":1330,"y":0.672},{"b":"S15","x":1336,"y":0.659},{"b":"S15","x":1350,"y":0.793},{"b":"S15","x":1363,"y":0.938},{"b":"S15","x":1376,"y":1.058},{"b":"S15","x":1390,"y":1.13},{"b":"S15","x":1394.4,"y":1.16}
]},
 "mark": {"type": "line", "color": "black", "strokeWidth": 1.5, "clip": true, "interpolate": "monotone"},
 "encoding": {"x": {"field": "x", "type": "quantitative"}, "y": {"field": "y", "type": "quantitative"}, "detail": {"field": "b"}}},
{"data": {"values": [{"z": 0}]},
 "mark": {"type": "rule", "color": "#56b4e9", "strokeWidth": 2},
 "encoding": {"y": {"field": "z", "type": "quantitative"}}},
{"data": {"values": [{"v":-4,"a":0,"c":10},{"v":-3,"a":0,"c":10},{"v":-2,"a":0,"c":10},{"v":-1,"a":0,"c":10},{"v":0,"a":0,"c":10},{"v":1,"a":0,"c":10},{"v":-4,"a":1384.4,"c":1394.4},{"v":-3,"a":1384.4,"c":1394.4},{"v":-2,"a":1384.4,"c":1394.4},{"v":-1,"a":1384.4,"c":1394.4},{"v":0,"a":1384.4,"c":1394.4},{"v":1,"a":1384.4,"c":1394.4}]},
 "mark": {"type": "rule", "color": "black", "strokeWidth": 1.5},
 "encoding": {"y": {"field": "v", "type": "quantitative"}, "x": {"field": "a", "type": "quantitative"}, "x2": {"field": "c"}}},
{"data": {"values": [{"k":198,"a":-5,"c":-4.928},{"k":311,"a":-5,"c":-4.928},{"k":539.7,"a":-5,"c":-4.928},{"k":645.3,"a":-5,"c":-4.928},{"k":842,"a":-5,"c":-4.928},{"k":955.3,"a":-5,"c":-4.928},{"k":1289.2,"a":-5,"c":-4.928},{"k":198,"a":2,"c":1.928},{"k":311,"a":2,"c":1.928},{"k":539.7,"a":2,"c":1.928},{"k":645.3,"a":2,"c":1.928},{"k":842,"a":2,"c":1.928},{"k":955.3,"a":2,"c":1.928},{"k":1289.2,"a":2,"c":1.928}]},
 "mark": {"type": "rule", "color": "black", "strokeWidth": 1.5},
 "encoding": {"x": {"field": "k", "type": "quantitative"}, "y": {"field": "a", "type": "quantitative"}, "y2": {"field": "c"}}}
]
}
